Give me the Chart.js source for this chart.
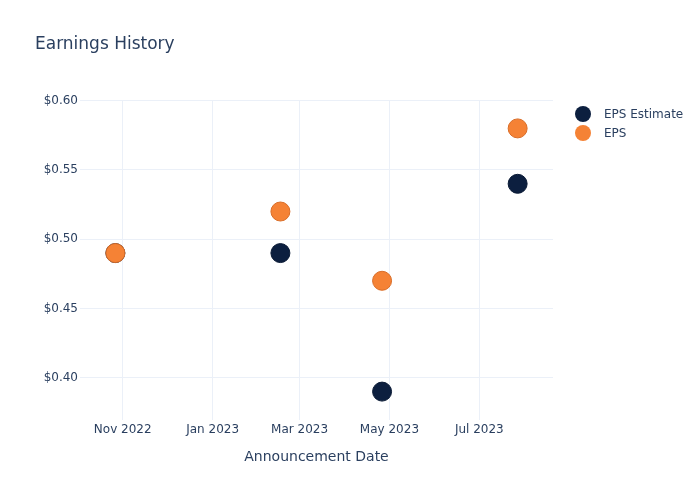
<!DOCTYPE html>
<html>
<head>
<meta charset="utf-8">
<script src="https://cdn.jsdelivr.net/npm/chart.js@4.4.0/dist/chart.umd.min.js"></script>
<style>
  html, body { margin: 0; padding: 0; background: #fff; }
  #wrap { width: 700px; height: 500px; }
</style>
</head>
<body>
<div id="wrap"><canvas id="epsChart" width="700" height="500"></canvas></div>
<script>
// DATA
const dates = ['2022-10-27', '2023-02-16', '2023-04-26', '2023-07-27'];
const epsEstimate = [0.49, 0.49, 0.39, 0.54];
const epsActual = [0.49, 0.52, 0.47, 0.58];
const xTickDates = ['2022-11-01', '2023-01-01', '2023-03-01', '2023-05-01', '2023-07-01'];
const yTicks = [0.40, 0.45, 0.50, 0.55, 0.60];
const xRange = ['2022-10-03', '2023-08-20'];
const yRange = [0.3695, 0.6005];

const months = ['Jan','Feb','Mar','Apr','May','Jun','Jul','Aug','Sep','Oct','Nov','Dec'];
const txtColor = '#2a3f5f';
const gridColor = '#ebf0f8';
const fontFam = "'DejaVu Sans', 'Open Sans', sans-serif";

function ts(s) {
    let p = s.split('-');
    return Date.UTC(+p[0], +p[1] - 1, +p[2]);
}
function pts(vals) {
    return vals.map((v, i) => ({ x: ts(dates[i]), y: v }));
}

const seriesStyle = [
    { label: 'EPS Estimate', color: '#0c1f3f', border: '#0a1a35' },
    { label: 'EPS', color: '#f58235', border: '#d96d28' }
];

// title + legend, drawn by hand to sit where the reference has them
const extras = {
    id: 'extras',
    afterDraw(chart) {
        const c = chart.ctx;
        c.save();
        c.fillStyle = txtColor;
        c.font = '17px ' + fontFam;
        c.textBaseline = 'middle';
        c.fillText('Earnings History', 35, 45);
        c.font = '12px ' + fontFam;
        seriesStyle.forEach(function (s, i) {
            let y = 114 + i * 19;
            c.beginPath();
            c.arc(583, y, 8, 0, Math.PI * 2);
            c.fillStyle = s.color;
            c.fill();
            c.fillStyle = txtColor;
            c.fillText(s.label, 604, y + 1);
        });
        c.restore();
    }
};

const cfg = {
    type: 'scatter',
    data: {
        datasets: [
            {
                label: seriesStyle[0].label,
                data: pts(epsEstimate),
                backgroundColor: seriesStyle[0].color,
                borderColor: seriesStyle[0].border,
                borderWidth: 1,
                pointRadius: 9.5,
                pointHoverRadius: 9.5,
                order: 2
            },
            {
                label: seriesStyle[1].label,
                data: pts(epsActual),
                backgroundColor: seriesStyle[1].color,
                borderColor: seriesStyle[1].border,
                borderWidth: 1,
                pointRadius: 9.5,
                pointHoverRadius: 9.5,
                order: 1
            }
        ]
    },
    options: {
        responsive: false,
        animation: false,
        layout: { padding: { left: 0, right: 147, top: 100, bottom: 0 } },
        plugins: {
            legend: { display: false },
            title: { display: false },
            tooltip: { enabled: false }
        },
        scales: {
            x: {
                type: 'linear',
                min: ts(xRange[0]),
                max: ts(xRange[1]),
                border: { display: false },
                grid: { color: gridColor, drawTicks: false },
                afterBuildTicks(scale) {
                    scale.ticks = xTickDates.map(d => ({ value: ts(d) }));
                },
                afterFit(scale) { scale.height = 80; },
                ticks: {
                    color: txtColor,
                    padding: 3,
                    maxRotation: 0,
                    autoSkip: false,
                    font: { family: fontFam, size: 12 },
                    callback(v) {
                        let d = new Date(v);
                        return months[d.getUTCMonth()] + ' ' + d.getUTCFullYear();
                    }
                },
                title: {
                    display: true,
                    text: 'Announcement Date',
                    color: txtColor,
                    font: { family: fontFam, size: 14 },
                    padding: { top: 4, bottom: 34 }
                }
            },
            y: {
                min: yRange[0],
                max: yRange[1],
                border: { display: false },
                grid: { color: gridColor, drawTicks: false },
                afterBuildTicks(scale) {
                    scale.ticks = yTicks.map(v => ({ value: v }));
                },
                afterFit(scale) { scale.width = 80; },
                ticks: {
                    color: txtColor,
                    padding: 2,
                    font: { family: fontFam, size: 12 },
                    callback(v) { return '$' + v.toFixed(2); }
                }
            }
        }
    },
    plugins: [extras]
};

const epsChart = new Chart(document.getElementById('epsChart'), cfg);
</script>
</body>
</html>
